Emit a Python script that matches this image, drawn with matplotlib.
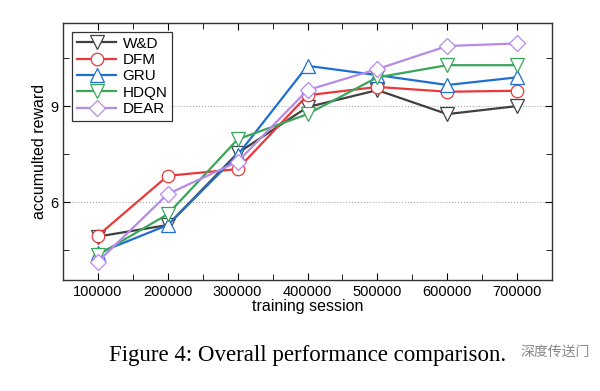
import matplotlib.pyplot as plt
from matplotlib.ticker import MultipleLocator

sessions = [100000, 200000, 300000, 400000, 500000, 600000, 700000]
wd = [4.92, 5.28, 7.53, 8.97, 9.5, 8.75, 9.0]
dfm = [4.95, 6.82, 7.03, 9.34, 9.6, 9.45, 9.48]
gru = [4.4, 5.28, 7.47, 10.26, 9.97, 9.66, 9.9]
hdqn = [4.34, 5.62, 7.96, 8.75, 9.9, 10.28, 10.28]
dear = [4.13, 6.25, 7.26, 9.5, 10.16, 10.88, 10.96]

series = [
    ('W&D', wd, '#404040', 'v', 9.5),
    ('DFM', dfm, '#e8393a', 'o', 9),
    ('GRU', gru, '#1f6fd0', '^', 9.5),
    ('HDQN', hdqn, '#3aa65a', 'v', 9.5),
    ('DEAR', dear, '#b58be6', 'D', 8),
]

plt.rcParams['font.family'] = ['Liberation Sans', 'DejaVu Sans']

fig = plt.figure(figsize=(6, 3.91), dpi=100)
ax = fig.add_axes([63 / 600, 1 - 280 / 391, 489 / 600, 257 / 391])

for name, vals, color, marker, ms in series:
    ax.plot(sessions, vals, color=color, marker=marker, markersize=ms,
            markerfacecolor='white', markeredgecolor=color, markeredgewidth=0.9,
            linewidth=1.6, label=name)

ax.set_xlim(50000, 750000)
ax.set_ylim(3.56, 11.6)
ax.xaxis.set_major_locator(MultipleLocator(100000))
ax.xaxis.set_minor_locator(MultipleLocator(50000))
ax.yaxis.set_major_locator(MultipleLocator(3))
ax.yaxis.set_minor_locator(MultipleLocator(1.5))
ax.ticklabel_format(axis='x', style='plain', useOffset=False)
ax.tick_params(which='both', direction='in', top=True, right=True, labelsize=10.5)
ax.tick_params(which='major', length=5)
ax.tick_params(which='minor', length=4)
ax.grid(axis='y', which='major', linestyle=':', color='#aaaaaa', linewidth=0.8)
for sp in ax.spines.values():
    sp.set_linewidth(1.0)
    sp.set_color('#333333')

ax.set_xlabel('training session', fontsize=11.5, labelpad=0)
ax.set_ylabel('accumulted reward', fontsize=11.5, labelpad=2)

leg = ax.legend(loc='upper left', fontsize=11, frameon=True, fancybox=False,
                edgecolor='black', handlelength=2.6, borderpad=0.3,
                labelspacing=0.15, handletextpad=0.4, borderaxespad=0.6)
leg.get_frame().set_linewidth(0.9)

fig.text(0.512, 1 - 356 / 391, 'Figure 4: Overall performance comparison.',
         family=['Liberation Serif', 'DejaVu Serif'], fontsize=16.5,
         ha='center', va='center')
fig.text(0.925, 1 - 352 / 391, '深度传送门', family=['Noto Sans CJK SC', 'DejaVu Sans'],
         fontsize=10, color='#888888', ha='center', va='center',
         bbox=dict(facecolor='white', edgecolor='none', pad=2, alpha=0.85))

fig.savefig('out.png', dpi=100)
